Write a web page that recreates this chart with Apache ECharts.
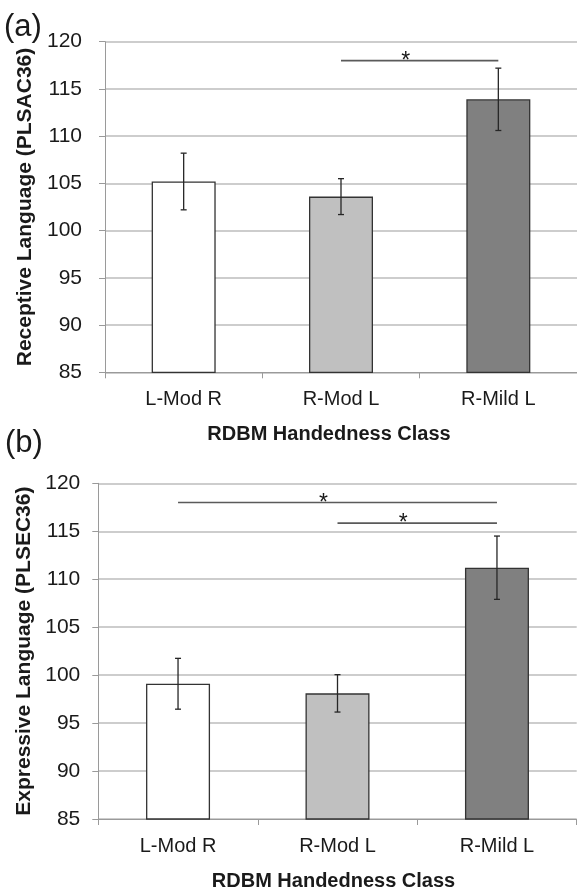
<!DOCTYPE html>
<html>
<head>
<meta charset="utf-8">
<script src="https://cdn.jsdelivr.net/npm/echarts@6/dist/echarts.min.js"></script>
<style>
html,body{margin:0;padding:0;background:#fff;}
#chart{width:577px;height:892px;}
</style>
</head>
<body>
<div id="chart"></div>
<script>
// ---- data ----
const categories = ['L-Mod R', 'R-Mod L', 'R-Mild L'];
const receptiveMeans = [105.2, 103.6, 113.9];
const receptiveErr = [3.0, 1.9, 3.3];
const expressiveMeans = [99.1, 98.1, 111.2];
const expressiveErr = [2.65, 1.95, 3.3];
// significance brackets: [fromCategory, toCategory, yValue]
const receptiveSig = [[1, 2, 118]];
const expressiveSig = [[0, 2, 118], [1, 2, 115.85]];
const yMin = 85, yMax = 120, yStep = 5;
const panelLabels = ['(a)', '(b)'];
const yTitles = ['Receptive Language (PLSAC36)', 'Expressive Language (PLSEC36)'];
const xTitle = 'RDBM Handedness Class';

// ---- styles ----
const barColors = ['#ffffff', '#c0c0c0', '#808080'];
const FONT = '"Liberation Sans", Arial, sans-serif';
const TXT = '#1a1a1a';
const GRIDC = '#bdbdbd';
const AXC = '#9a9a9a';

function barData(means) {
  return means.map((v, i) => ({ value: v, itemStyle: { color: barColors[i] } }));
}
function errData(means, errs) {
  return means.map((m, i) => [i, m - errs[i], m + errs[i]]);
}
function errRender(params, api) {
  const x = api.value(0);
  const lo = api.coord([x, api.value(1)]);
  const hi = api.coord([x, api.value(2)]);
  const c = 3;
  const st = { stroke: '#262626', lineWidth: 1.3 };
  return {
    type: 'group',
    children: [
      { type: 'line', shape: { x1: lo[0], y1: lo[1], x2: hi[0], y2: hi[1] }, style: st },
      { type: 'line', shape: { x1: lo[0] - c, y1: lo[1], x2: lo[0] + c, y2: lo[1] }, style: st },
      { type: 'line', shape: { x1: hi[0] - c, y1: hi[1], x2: hi[0] + c, y2: hi[1] }, style: st }
    ]
  };
}
function sigRender(params, api) {
  const p1 = api.coord([api.value(0), api.value(2)]);
  const p2 = api.coord([api.value(1), api.value(2)]);
  const mid = (p1[0] + p2[0]) / 2 - 14;
  return {
    type: 'group',
    children: [
      { type: 'line', shape: { x1: p1[0], y1: p1[1], x2: p2[0], y2: p2[1] },
        style: { stroke: '#5a5a5a', lineWidth: 1.6 } },
      { type: 'text', x: mid, y: p1[1] + 1,
        style: { text: '*', fontSize: 23, fontFamily: FONT, fill: TXT, align: 'center', verticalAlign: 'middle' } }
    ]
  };
}

const grids = [
  { left: 105, top: 41.7, width: 476, height: 330.6 },
  { left: 98.3, top: 483.3, width: 478.4, height: 336.7 }
];
const yNameGap = [66, 61];
const yLabelMargin = [23, 18];
const xNameShift = [24, 8];

const xAxes = grids.map((g, k) => ({
  type: 'category', gridIndex: k, data: categories,
  axisLine: { show: true, lineStyle: { color: AXC, width: 1 } },
  axisTick: { show: true, length: 6, lineStyle: { color: AXC } },
  axisLabel: { fontSize: 20, fontFamily: FONT, color: TXT, margin: 17 },
  name: xTitle, nameLocation: 'middle', nameGap: 52,
  nameTextStyle: { fontSize: 20, fontWeight: 'bold', fontFamily: FONT, color: TXT, padding: [0, xNameShift[k], 0, 0] }
}));
const yAxes = grids.map((g, k) => ({
  type: 'value', gridIndex: k, min: yMin, max: yMax, interval: yStep,
  axisLine: { show: true, lineStyle: { color: AXC, width: 1 } },
  axisTick: { show: true, length: 6, lineStyle: { color: AXC } },
  axisLabel: { fontSize: 21, fontFamily: FONT, color: TXT, margin: yLabelMargin[k] },
  splitLine: { show: true, lineStyle: { color: GRIDC, width: 1.5 } },
  name: yTitles[k], nameLocation: 'middle', nameGap: yNameGap[k],
  nameTextStyle: { fontSize: 21, fontWeight: 'bold', fontFamily: FONT, color: TXT }
}));

const panels = [
  { means: receptiveMeans, errs: receptiveErr, sig: receptiveSig },
  { means: expressiveMeans, errs: expressiveErr, sig: expressiveSig }
];
const series = [];
panels.forEach((p, k) => {
  series.push({
    type: 'bar', xAxisIndex: k, yAxisIndex: k, data: barData(p.means), barWidth: 64,
    itemStyle: { borderColor: '#333333', borderWidth: 1.3 }, z: 2, animation: false
  });
  series.push({
    type: 'custom', xAxisIndex: k, yAxisIndex: k, data: errData(p.means, p.errs),
    renderItem: errRender, encode: { x: 0, y: [1, 2] }, z: 5, animation: false
  });
  series.push({
    type: 'custom', xAxisIndex: k, yAxisIndex: k, data: p.sig,
    renderItem: sigRender, encode: { x: [0, 1], y: 2 }, z: 5, animation: false, clip: false
  });
});

const chart = echarts.init(document.getElementById('chart'));
chart.setOption({
  animation: false,
  backgroundColor: '#ffffff',
  grid: grids,
  xAxis: xAxes,
  yAxis: yAxes,
  series: series,
  graphic: [
    { type: 'text', left: 4, top: 12, style: { text: panelLabels[0], fontSize: 31, fontFamily: FONT, fill: TXT } },
    { type: 'text', left: 5, top: 428, style: { text: panelLabels[1], fontSize: 31, fontFamily: FONT, fill: TXT } }
  ]
});
</script>
</body>
</html>
